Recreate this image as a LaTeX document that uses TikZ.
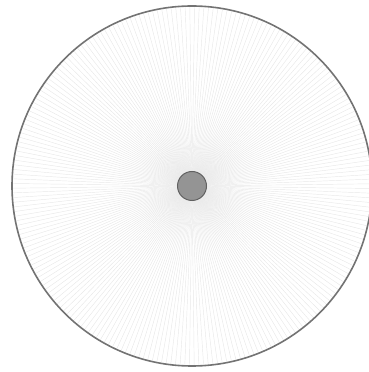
\documentclass[tikz,border=0pt]{standalone}
\begin{document}
\begin{tikzpicture}[x=1pt,y=1pt,
  ray/.style={draw=black!9,line width=0.45pt},
  rim/.style={draw=black!55,line width=1.6pt},
  hub/.style={circle,draw=black!62,fill=black!42,line width=1pt,minimum size=29pt,inner sep=0pt}]
\useasboundingbox (0,0) rectangle (369,372);
\coordinate (c) at (192,186);
\foreach \a in {0,1.5,...,358.5}{
  \draw[ray] (c) -- ++(\a+0.7:179);
}
\draw[rim] (c) circle (180);
\node[hub] (h) at (c) {};
\end{tikzpicture}
\end{document}
